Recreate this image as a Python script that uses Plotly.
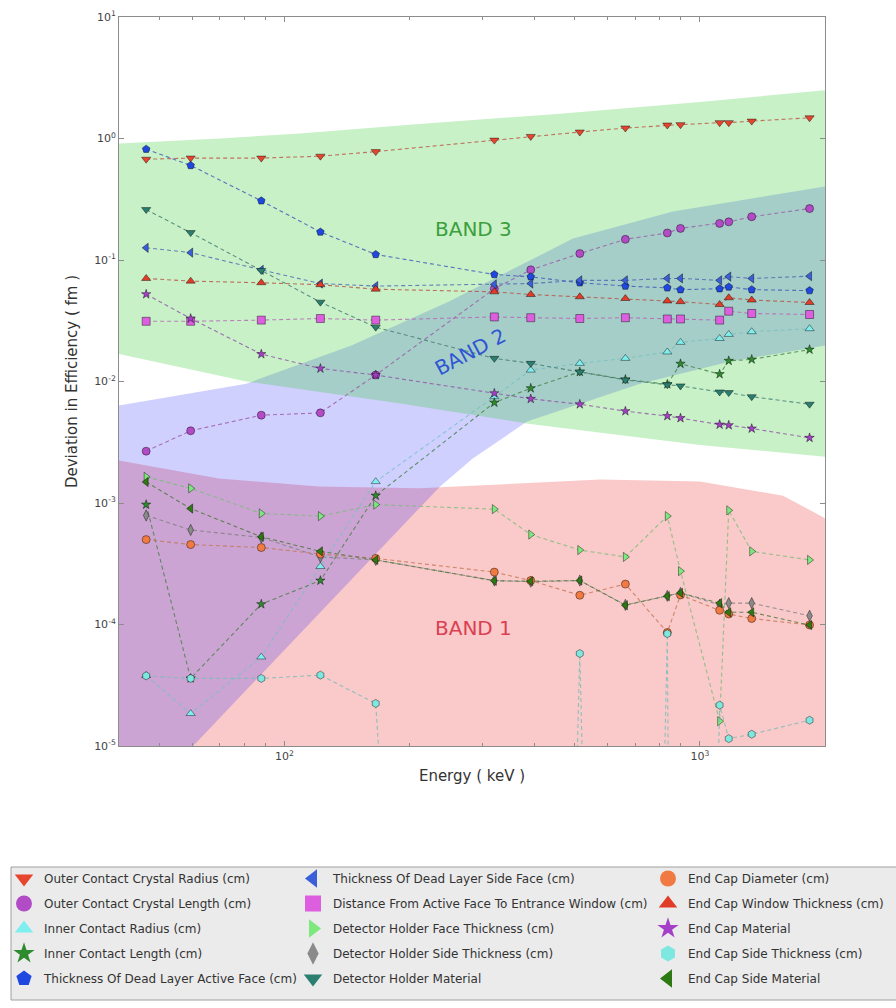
import math
import plotly.graph_objects as go

# ---------------- data ----------------
energy_keV = [46.5, 59.5, 88.0, 122.1, 165.9, 320.1, 391.7, 514.0, 661.7, 834.8, 898.0, 1115.5, 1173.2, 1332.5, 1836.1]

BELOW_AXIS = 1e-20  # non-positive deviation, clipped below the log axis

outer_contact_crystal_radius = [0.675, 0.69, 0.69, 0.715, 0.78, 0.97, 1.04, 1.13, 1.22, 1.29, 1.30, 1.35, 1.35, 1.39, 1.48]
outer_contact_crystal_length = [0.00267, 0.00393, 0.00528, 0.00552, 0.0113, 0.058, 0.083, 0.113, 0.148, 0.167, 0.182, 0.200, 0.206, 0.227, 0.265]
inner_contact_radius = [3.8e-5, 1.85e-5, 5.4e-5, 3.0e-4, 1.5e-3, 0.0075, 0.0124, 0.0141, 0.0155, 0.0175, 0.021, 0.0226, 0.0244, 0.0257, 0.0272]
inner_contact_length = [9.7e-4, 3.6e-5, 1.47e-4, 2.3e-4, 1.15e-3, 0.0067, 0.0088, 0.012, 0.0104, 0.0095, 0.0140, 0.0115, 0.0148, 0.0152, 0.0183]
dead_layer_active_face = [0.817, 0.60, 0.307, 0.17, 0.111, 0.076, 0.0727, 0.065, 0.061, 0.059, 0.057, 0.058, 0.060, 0.057, 0.056]
dead_layer_side_face = [0.126, 0.115, 0.083, 0.064, 0.061, 0.063, 0.064, 0.068, 0.068, 0.0705, 0.0705, 0.068, 0.073, 0.0705, 0.0736]
distance_face_to_window = [0.0313, 0.0313, 0.032, 0.033, 0.032, 0.034, 0.0335, 0.033, 0.0335, 0.0327, 0.0327, 0.032, 0.0379, 0.0363, 0.0356]
detector_holder_face = [1.64e-3, 1.32e-3, 8.2e-4, 7.8e-4, 9.7e-4, 8.9e-4, 5.5e-4, 4.1e-4, 3.6e-4, 7.8e-4, 2.75e-4, 1.6e-5, 8.7e-4, 4.0e-4, 3.4e-4]
detector_holder_side = [7.9e-4, 6.0e-4, 5.2e-4, 3.6e-4, 3.4e-4, 2.3e-4, 2.25e-4, 2.3e-4, 1.45e-4, 1.72e-4, 1.82e-4, 1.45e-4, 1.5e-4, 1.5e-4, 1.18e-4]
detector_holder_material = [0.26, 0.168, 0.082, 0.045, 0.028, 0.0155, 0.0141, 0.012, 0.0103, 0.0094, 0.0092, 0.0082, 0.0081, 0.0075, 0.0065]
end_cap_diameter = [5.0e-4, 4.55e-4, 4.3e-4, 3.8e-4, 3.5e-4, 2.7e-4, 2.3e-4, 1.74e-4, 2.15e-4, 8.6e-5, 1.75e-4, 1.31e-4, 1.22e-4, 1.12e-4, 9.9e-5]
end_cap_window = [0.0705, 0.067, 0.065, 0.0626, 0.0575, 0.0547, 0.052, 0.0498, 0.0482, 0.046, 0.0454, 0.043, 0.0489, 0.0468, 0.0447]
end_cap_material = [0.0523, 0.033, 0.0168, 0.0128, 0.0113, 0.008, 0.0072, 0.0065, 0.0057, 0.0052, 0.005, 0.00442, 0.00437, 0.0041, 0.00344]
end_cap_side_thickness = [3.78e-5, 3.6e-5, 3.6e-5, 3.83e-5, 2.24e-5, BELOW_AXIS, BELOW_AXIS, 5.77e-5, BELOW_AXIS, 8.4e-5, BELOW_AXIS, 2.17e-5, 1.15e-5, 1.25e-5, 1.63e-5]
end_cap_side_material = [1.49e-3, 9.0e-4, 5.27e-4, 4.0e-4, 3.4e-4, 2.29e-4, 2.27e-4, 2.3e-4, 1.44e-4, 1.71e-4, 1.82e-4, 1.5e-4, 1.26e-4, 1.26e-4, 9.9e-5]

series_names = [
    "Outer Contact Crystal Radius (cm)",
    "Outer Contact Crystal Length (cm)",
    "Inner Contact Radius (cm)",
    "Inner Contact Length (cm)",
    "Thickness Of Dead Layer Active Face (cm)",
    "Thickness Of Dead Layer Side Face (cm)",
    "Distance From Active Face To Entrance Window (cm)",
    "Detector Holder Face Thickness (cm)",
    "Detector Holder Side Thickness (cm)",
    "Detector Holder Material",
    "End Cap Diameter (cm)",
    "End Cap Window Thickness (cm)",
    "End Cap Material",
    "End Cap Side Thickness (cm)",
    "End Cap Side Material",
]
series_values = [
    outer_contact_crystal_radius, outer_contact_crystal_length, inner_contact_radius,
    inner_contact_length, dead_layer_active_face, dead_layer_side_face,
    distance_face_to_window, detector_holder_face, detector_holder_side,
    detector_holder_material, end_cap_diameter, end_cap_window, end_cap_material,
    end_cap_side_thickness, end_cap_side_material,
]

# band outlines (energy keV, deviation)
band3_upper_E = [40, 70, 109, 200, 461, 1000, 2000]
band3_upper_v = [0.91, 1.0, 1.1, 1.3, 1.6, 2.0, 2.5]
band3_lower_E = [40, 81, 190, 386, 1000, 2000]
band3_lower_v = [0.0168, 0.0100, 0.0066, 0.0045, 0.0030, 0.0024]

band2_upper_E = [40, 81, 145, 249, 320, 495, 861, 2000]
band2_upper_v = [0.00634, 0.0096, 0.0198, 0.0455, 0.0704, 0.150, 0.251, 0.403]
band2_lower_E = [40, 60.3, 190, 237, 284, 384, 718, 1182, 2000]
band2_lower_v = [1e-5, 1e-5, 6.2e-4, 1.37e-3, 2.32e-3, 4.69e-3, 9.6e-3, 0.0146, 0.0198]

band1_upper_E = [40, 69.6, 121, 211, 575, 1000, 1585, 2000]
band1_upper_v = [0.00224, 0.00159, 0.00137, 0.00132, 0.00156, 0.00150, 0.00115, 0.00075]
band1_lower_E = [40, 2000]
band1_lower_v = [1e-5, 1e-5]

y_tick_vals = [1e-5, 1e-4, 1e-3, 1e-2, 1e-1, 1, 10]
y_tick_text = ["10<sup>-5</sup>", "10<sup>-4</sup>", "10<sup>-3</sup>", "10<sup>-2</sup>",
               "10<sup>-1</sup>", "10<sup>0</sup>", "10<sup>1</sup>"]
x_tick_vals = [100, 1000]
x_tick_text = ["10<sup>2</sup>", "10<sup>3</sup>"]

# ---------------- styles ----------------
symbols = ["triangle-down", "circle", "triangle-up", "star", "pentagon",
           "triangle-left", "square", "triangle-right", "diamond-tall", "triangle-down",
           "circle", "triangle-up", "star", "hexagon", "triangle-left"]
colors = ["#e8452e", "#b24bc6", "#7eeeee", "#2e8b2e", "#1f48e0",
          "#3a5fd8", "#dd5fe0", "#7de87d", "#8a8a8a", "#2a7f70",
          "#f07a42", "#e03c28", "#a63fc8", "#7ce8e0", "#2e7a12"]
sizes = [8, 8, 8, 7, 8, 8, 8, 8, 8, 8, 8, 8, 7, 8, 8]

fig = go.Figure()


def band(upE, upV, loE, loV, color):
    xs = list(upE) + list(reversed(loE))
    ys = list(upV) + list(reversed(loV))
    xs.append(xs[0])
    ys.append(ys[0])
    fig.add_trace(go.Scatter(x=xs, y=ys, mode="lines", fill="toself", fillcolor=color,
                             line=dict(width=0), hoverinfo="skip", showlegend=False))


band(band1_upper_E, band1_upper_v, band1_lower_E, band1_lower_v, "rgba(235,55,55,0.27)")
band(band2_upper_E, band2_upper_v, band2_lower_E, band2_lower_v, "rgba(20,20,255,0.20)")
band(band3_upper_E, band3_upper_v, band3_lower_E, band3_lower_v, "rgba(50,205,50,0.27)")


def mix(hexc, a, gray=(110, 110, 110), g=0.35):
    h = hexc.lstrip("#")
    r, gg, b = int(h[0:2], 16), int(h[2:4], 16), int(h[4:6], 16)
    r = r * (1 - g) + gray[0] * g
    gg = gg * (1 - g) + gray[1] * g
    b = b * (1 - g) + gray[2] * g
    return "rgba(%d,%d,%d,%.2f)" % (r, gg, b, a)


for name, vals, sym, col, sz in zip(series_names, series_values, symbols, colors, sizes):
    fig.add_trace(go.Scatter(
        x=energy_keV, y=vals, mode="lines+markers", name=name, showlegend=False,
        line=dict(color=mix(col, 0.8), width=1.1, dash="4px,3px"),
        marker=dict(symbol=sym, size=sz, color=col,
                    line=dict(width=0.7, color="rgba(0,0,0,0.6)")),
        cliponaxis=True,
    ))

legend_ids = ["legend"] * 5 + ["legend2"] * 5 + ["legend3"] * 5
for i, (name, sym, col) in enumerate(zip(series_names, symbols, colors)):
    fig.add_trace(go.Scatter(
        x=[None], y=[None], mode="markers", name=name, legend=legend_ids[i],
        legendgroup=name, showlegend=True,
        marker=dict(symbol=sym, size=16, color=col),
    ))

# ---------------- layout ----------------
L, R, T, B = 119, 71, 17, 262
W, H = 896, 1008
pw, ph = W - L - R, H - T - B


def px2paper_x(px):
    return (px - L) / pw


def px2paper_y(py):
    return (H - B - py) / ph


legend_common = dict(bgcolor="rgba(0,0,0,0)", borderwidth=0, xanchor="left", yanchor="top",
                     font=dict(size=12, color="#333333", family="DejaVu Sans"),
                     tracegroupgap=6, traceorder="grouped", itemsizing="trace")

fig.update_layout(
    width=W, height=H,
    margin=dict(l=L, r=R, t=T, b=B, autoexpand=False),
    paper_bgcolor="white", plot_bgcolor="white",
    font=dict(family="DejaVu Sans", color="#333333"),
    legend=dict(x=px2paper_x(4), y=px2paper_y(864), **legend_common),
    legend2=dict(x=px2paper_x(293), y=px2paper_y(864), **legend_common),
    legend3=dict(x=px2paper_x(648), y=px2paper_y(864), **legend_common),
    xaxis=dict(type="log", range=[math.log10(40), math.log10(2000)],
               showgrid=False, zeroline=False, showline=True, linecolor="#8c8c8c",
               linewidth=1, mirror="ticks", ticks="inside", ticklen=5, tickcolor="#8c8c8c",
               tickvals=x_tick_vals, ticktext=x_tick_text,
               tickfont=dict(size=11, color="#444444"),
               minor=dict(ticks="inside", ticklen=3, tickcolor="#8c8c8c",
                          tickvals=[50, 60, 70, 80, 90, 200, 300, 400, 500, 600, 700, 800, 900, 2000]),
               title=dict(text="Energy ( keV )", font=dict(size=15, color="#333333"), standoff=8)),
    yaxis=dict(type="log", range=[-5, 1],
               showgrid=False, zeroline=False, showline=True, linecolor="#8c8c8c",
               linewidth=1, mirror="ticks", ticks="inside", ticklen=5, tickcolor="#8c8c8c",
               tickvals=y_tick_vals, ticktext=y_tick_text,
               tickfont=dict(size=11, color="#444444"),
               title=dict(text="Deviation in Efficiency ( fm )", font=dict(size=15, color="#333333"),
                          standoff=12)),
    shapes=[dict(type="rect", xref="paper", yref="paper",
                 x0=px2paper_x(11), x1=px2paper_x(905), y0=px2paper_y(1000), y1=px2paper_y(867),
                 fillcolor="#ebebeb", line=dict(color="#a0a0a0", width=1), layer="below")],
    annotations=[
        dict(text="BAND 3", xref="paper", yref="paper", x=px2paper_x(473), y=px2paper_y(215),
             showarrow=False, font=dict(size=20, color="#3d9e3d")),
        dict(text="BAND 2", xref="paper", yref="paper", x=px2paper_x(470), y=px2paper_y(352),
             showarrow=False, textangle=-28, font=dict(size=20, color="#2f55d4")),
        dict(text="BAND 1", xref="paper", yref="paper", x=px2paper_x(473), y=px2paper_y(642),
             showarrow=False, font=dict(size=20, color="#db3f52")),
    ],
)

fig.write_html("out.html")
